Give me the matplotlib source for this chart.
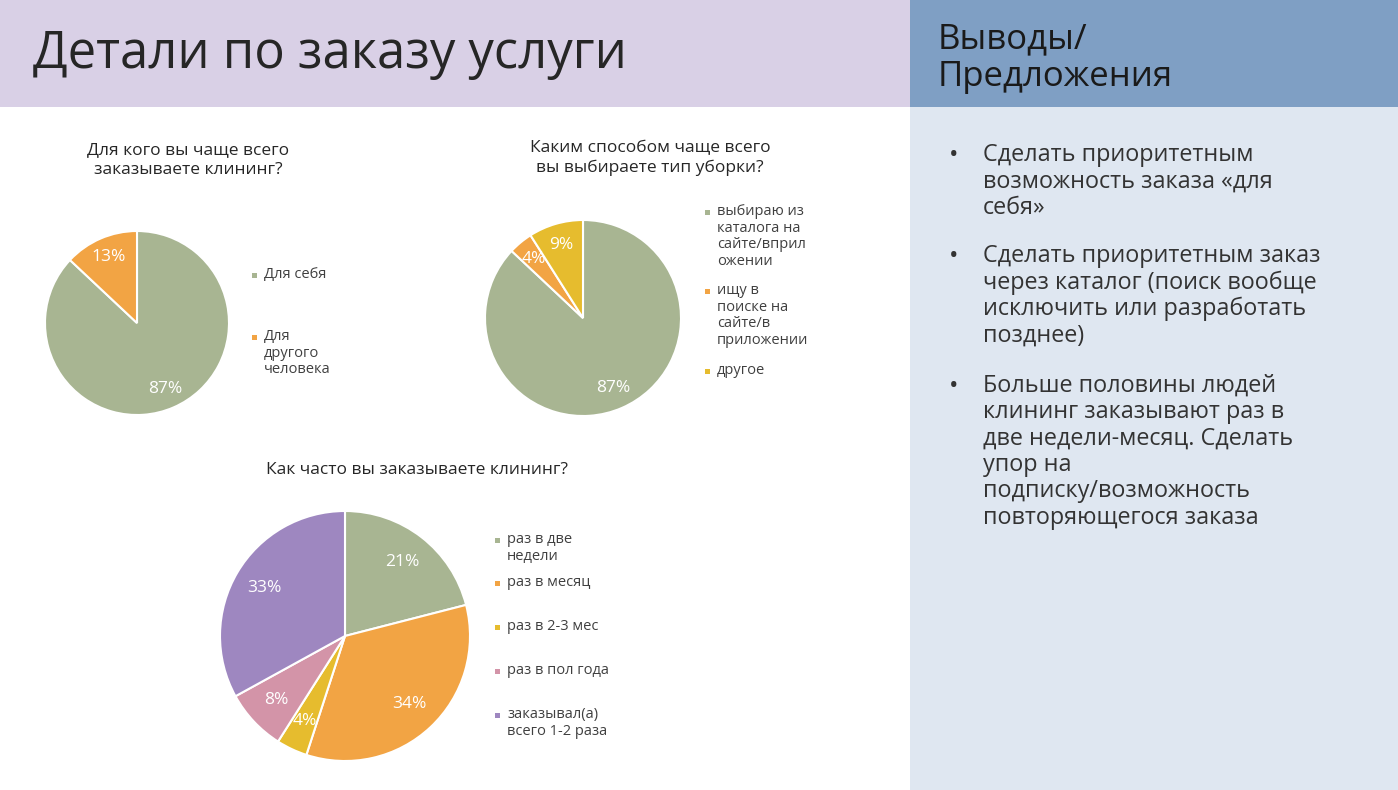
import matplotlib.pyplot as plt
from matplotlib.patches import Rectangle

plt.rcParams['font.family'] = ['Open Sans', 'DejaVu Sans']

W, H = 1398, 790
GREEN, ORANGE, YELLOW, PINK, PURPLE = "#a8b592", "#f2a444", "#e6bc2e", "#d394a8", "#9e87c0"

# ── Data ──
q1_labels = ["Для себя", "Для\nдругого\nчеловека"]
q1_values = [87, 13]
q2_labels = ["выбираю из\nкаталога на\nсайте/вприл\nожении", "ищу в\nпоиске на\nсайте/в\nприложении", "другое"]
q2_values = [87, 4, 9]
q3_labels = ["раз в две\nнедели", "раз в месяц", "раз в 2-3 мес", "раз в пол года", "заказывал(а)\nвсего 1-2 раза"]
q3_values = [21, 34, 4, 8, 33]

fig = plt.figure(figsize=(W / 100, H / 100), dpi=100)
fig.patch.set_facecolor("white")

def px(x, y):
    return x / W, 1 - y / H

def rect(x0, y0, x1, y1, color):
    fig.add_artist(Rectangle(px(x0, y1), (x1 - x0) / W, (y1 - y0) / H,
                             transform=fig.transFigure, facecolor=color, edgecolor="none", zorder=0))

rect(0, 0, 910, 107, "#d9d0e6")
rect(910, 0, W, 107, "#7f9fc4")
rect(910, 107, W, H, "#dfe7f1")

fig.text(*px(33, 55), "Детали по заказу услуги", fontsize=36.5, color="#262626", va="center")
fig.text(*px(938, 58), "Выводы/\nПредложения", fontsize=25, color="#1a1a1a", va="center", linespacing=1.15)

bullets = [
    (157, "Сделать приоритетным\nвозможность заказа «для\nсебя»"),
    (258, "Сделать приоритетным заказ\nчерез каталог (поиск вообще\nисключить или разработать\nпозднее)"),
    (388, "Больше половины людей\nклининг заказывают раз в\nдве недели-месяц. Сделать\nупор на\nподписку/возможность\nповторяющегося заказа"),
]
for y, t in bullets:
    fig.text(*px(949, y - 14), "•", fontsize=18, color="#333333", va="top")
    fig.text(*px(983, y - 14), t, fontsize=16.8, color="#333333", va="top", linespacing=1.13)

def pie(cx, cy, r, values, colors, pctd, labels, lx, ly, lgap):
    ax = fig.add_axes([(cx - r) / W, 1 - (cy + r) / H, 2 * r / W, 2 * r / H])
    ax.pie(values, colors=colors, startangle=90, counterclock=False,
           wedgeprops=dict(edgecolor="white", linewidth=1.5),
           autopct="%d%%", pctdistance=pctd,
           textprops=dict(color="white", fontsize=12.5))
    ax.set_xlim(-1, 1)
    ax.set_ylim(-1, 1)
    ax.set_aspect("equal")
    y = ly
    for lab, c, g in zip(labels, colors, lgap):
        fig.add_artist(Rectangle(px(lx, y + 3), 5 / W, 5 / H, transform=fig.transFigure,
                                 facecolor=c, edgecolor="none"))
        fig.text(*px(lx + 12, y - 8), lab, fontsize=10.5, color="#404040", va="top", linespacing=1.15)
        y += g

fig.text(*px(188, 160), "Для кого вы чаще всего\nзаказываете клининг?", fontsize=12.5, color="#262626",
         ha="center", va="center", linespacing=1.3)
pie(137, 323, 92, q1_values, [GREEN, ORANGE], 0.78, q1_labels, 252, 275, [62, 0])

fig.text(*px(650, 158), "Каким способом чаще всего\nвы выбираете тип уборки?", fontsize=12.5, color="#262626",
         ha="center", va="center", linespacing=1.3)
pie(583, 318, 98, q2_values, [GREEN, ORANGE, YELLOW], 0.78, q2_labels, 705, 212, [79, 80, 0])

fig.text(*px(417, 470), "Как часто вы заказываете клининг?", fontsize=12.5, color="#262626",
         ha="center", va="center")
pie(345, 636, 125, q3_values, [GREEN, ORANGE, YELLOW, PINK, PURPLE], 0.75, q3_labels, 495, 540, [43, 44, 44, 44, 0])

fig.savefig("out.png", dpi=100, facecolor="white")
